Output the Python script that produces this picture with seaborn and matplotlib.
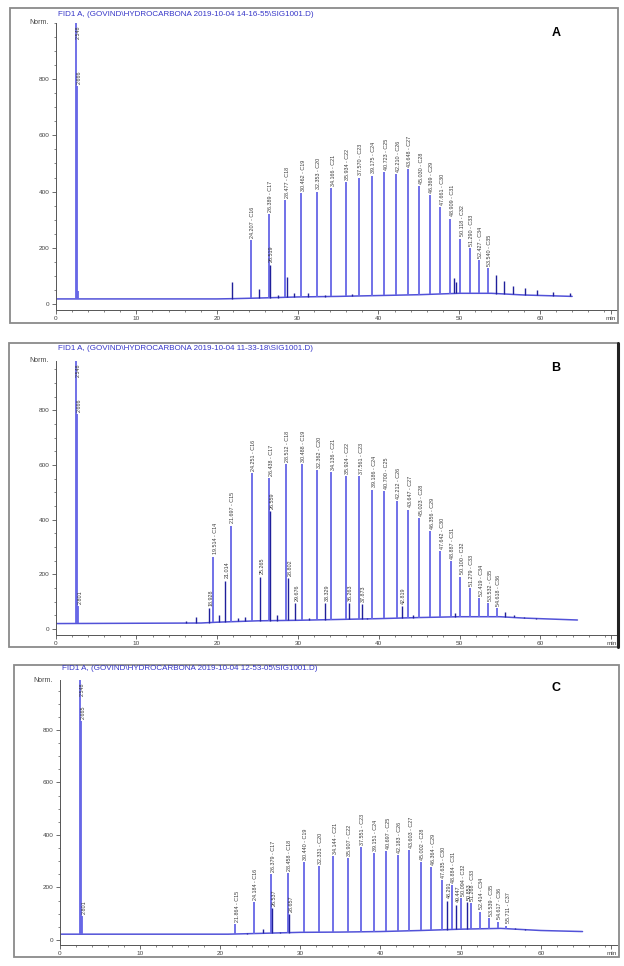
import numpy as np
import pandas as pd
import matplotlib
matplotlib.use("Agg")
import matplotlib.pyplot as plt
import seaborn as sns
from matplotlib.patches import Rectangle
from matplotlib.ticker import MultipleLocator

# ---- panel A : retention time (min), height (Norm.), peak label
a_rt = [2.548, 2.666, 2.75, 21.90, 23.40, 24.207, 25.20, 26.389, 26.519, 27.50,
        28.477, 28.62, 29.50, 30.462, 31.30, 32.353, 33.40, 34.166, 35.934, 36.70,
        37.570, 39.175, 40.723, 42.210, 43.648, 45.030, 46.369, 47.661, 48.909, 49.35,
        49.60, 50.118, 51.290, 52.427, 53.540, 54.55, 55.55, 56.70, 58.15, 59.70,
        61.60, 63.80]
a_height = [1100, 775, 45, 80, 22, 228, 55, 320, 140, 32,
            369, 95, 40, 395, 38, 400, 33, 412, 434, 35,
            450, 457, 468, 462, 480, 420, 388, 345, 304, 92,
            80, 233, 198, 156, 127, 103, 83, 65, 57, 50,
            42, 38]
a_label = ["2.548", "2.666", "", "", "", "24.207 - C16", "", "26.389 - C17", "26.519", "",
           "28.477 - C18", "", "", "30.462 - C19", "", "32.353 - C20", "", "34.166 - C21",
           "35.934 - C22", "", "37.570 - C23", "39.175 - C24", "40.723 - C25", "42.210 - C26",
           "43.648 - C27", "45.030 - C28", "46.369 - C29", "47.661 - C30", "48.909 - C31", "",
           "", "50.118 - C32", "51.290 - C33", "52.427 - C34", "53.540 - C35", "", "", "", "", "",
           "", ""]
a_base_t = [0, 20, 22, 25, 30, 35, 40, 45, 50, 54, 58, 64]
a_base_y = [18, 18, 19, 21, 25, 27, 30, 33, 38, 38, 32, 27]

# ---- panel B
b_rt = [2.548, 2.666, 2.80, 16.10, 17.40, 18.928, 19.514, 20.20, 21.014, 21.697,
        22.60, 23.40, 24.251, 25.265, 26.438, 26.559, 27.40, 28.512, 28.802, 29.676,
        30.488, 31.40, 32.362, 33.329, 34.136, 35.924, 36.263, 37.561, 37.873, 38.60,
        39.186, 40.700, 42.212, 42.819, 43.647, 44.30, 45.023, 46.356, 47.642, 48.887,
        49.40, 50.100, 51.279, 52.419, 53.532, 54.618, 55.60, 56.70, 58.00, 59.50,
        61.20]
b_height = [1100, 785, 85, 30, 45, 76, 265, 50, 177, 378,
            40, 45, 571, 192, 553, 430, 50, 602, 185, 95,
            602, 40, 580, 95, 575, 559, 95, 559, 90, 40,
            510, 504, 467, 85, 437, 50, 406, 357, 284, 247,
            60, 192, 149, 113, 94, 76, 62, 50, 45, 40,
            36]
b_label = ["2.548", "2.666", "2.801", "", "", "18.928", "19.514 - C14", "", "21.014", "21.697 - C15",
           "", "", "24.251 - C16", "25.265", "26.438 - C17", "26.559", "", "28.512 - C18", "28.802", "29.676",
           "30.488 - C19", "", "32.362 - C20", "33.329", "34.136 - C21", "35.924 - C22", "36.263",
           "37.561 - C23", "37.873", "",
           "39.186 - C24", "40.700 - C25", "42.212 - C26", "42.819", "43.647 - C27", "", "45.023 - C28",
           "46.356 - C29", "47.642 - C30", "48.887 - C31",
           "", "50.100 - C32", "51.279 - C33", "52.419 - C34", "53.532 - C35", "54.618 - C36", "", "", "", "",
           ""]
b_base_t = [0, 18, 20, 25, 30, 35, 40, 45, 50, 55, 58, 64.6]
b_base_y = [20, 22, 25, 30, 32, 35, 38, 42, 45, 45, 40, 33]

# ---- panel C
c_rt = [2.548, 2.665, 2.80, 21.864, 23.40, 24.184, 25.30, 26.379, 26.537, 27.50,
        28.458, 28.657, 30.440, 31.30, 32.331, 34.144, 35.907, 37.551, 39.151, 40.697,
        42.183, 43.603, 45.002, 46.364, 47.635, 48.291, 48.884, 49.447, 50.094, 50.853,
        51.268, 52.414, 53.539, 54.617, 55.711, 56.80, 58.00, 59.50, 61.00]
c_height = [1100, 832, 90, 62, 28, 146, 42, 250, 120, 30,
            254, 100, 295, 32, 282, 320, 311, 353, 330, 337,
            324, 343, 298, 279, 229, 150, 210, 135, 159, 145,
            140, 108, 83, 70, 55, 45, 40, 36, 34]
c_label = ["2.548", "2.665", "2.801", "21.864 - C15", "", "24.184 - C16", "", "26.379 - C17", "26.537", "",
           "28.458 - C18", "28.657", "30.440 - C19", "", "32.331 - C20", "34.144 - C21", "35.907 - C22",
           "37.551 - C23", "39.151 - C24", "40.697 - C25",
           "42.183 - C26", "43.603 - C27", "45.002 - C28", "46.364 - C29", "47.635 - C30", "48.291",
           "48.884 - C31", "49.447", "50.094 - C32", "50.853",
           "51.268 - C33", "52.414 - C34", "53.539 - C35", "54.617 - C36", "55.711 - C37", "", "", "", ""]
c_base_t = [0, 21, 25, 30, 35, 40, 45, 50, 55, 60, 65.2]
c_base_y = [22, 22, 25, 29, 30, 32, 36, 41, 44, 36, 32]

titles = [
    "FID1 A, (GOVIND\\HYDROCARBONA 2019-10-04 14-16-55\\SIG1001.D)",
    "FID1 A, (GOVIND\\HYDROCARBONA 2019-10-04 11-33-18\\SIG1001.D)",
    "FID1 A, (GOVIND\\HYDROCARBONA 2019-10-04 12-53-05\\SIG1001.D)",
]
letters = ["A", "B", "C"]

sns.set_style("white")
plt.rcParams["font.family"] = ["Liberation Sans", "DejaVu Sans"]

W, H = 624, 966
fig = plt.figure(figsize=(W / 100, H / 100), dpi=100)


def px(x0, y0, x1, y1):
    # pixel box (top-left origin) -> figure fraction rect
    return [x0 / W, 1 - y1 / H, (x1 - x0) / W, (y1 - y0) / H]


panels = [
    dict(rt=a_rt, h=a_height, lab=a_label, bt=a_base_t, by=a_base_y,
         box=px(55.6, 23, 616.5, 309.6), ytop=1000, frame=(10, 8, 618, 323),
         title_y=14, letter_y=33),
    dict(rt=b_rt, h=b_height, lab=b_label, bt=b_base_t, by=b_base_y,
         box=px(55.7, 361, 617, 634.5), ytop=980, frame=(9, 343, 618, 647),
         title_y=349, letter_y=368),
    dict(rt=c_rt, h=c_height, lab=c_label, bt=c_base_t, by=c_base_y,
         box=px(59.7, 680, 617, 945.2), ytop=990, frame=(14, 665, 619, 957),
         title_y=669, letter_y=688),
]

light = "#6666e6"
dark = "#20209a"

for i, p in enumerate(panels):
    ax = fig.add_axes(p["box"])
    df = pd.DataFrame({"rt": p["rt"], "h": p["h"], "label": p["lab"]})
    df["base"] = np.interp(df["rt"], p["bt"], p["by"])
    is_c = df["label"].str.contains(" - C") | (df["rt"] < 3)

    base = pd.DataFrame({"t": p["bt"], "y": p["by"]})
    sns.lineplot(data=base, x="t", y="y", ax=ax, color="#3f3fd4", lw=1.1, alpha=0.9)

    ax.vlines(df.loc[is_c, "rt"], df.loc[is_c, "base"], df.loc[is_c, "h"],
              color=light, lw=1.3)
    ax.vlines(df.loc[~is_c, "rt"], df.loc[~is_c, "base"], df.loc[~is_c, "h"],
              color=dark, lw=1.0)

    ytop = p["ytop"]
    for _, r in df.iterrows():
        if not r["label"]:
            continue
        if r["h"] > ytop:
            ax.text(r["rt"] + 0.25, ytop - 10, r["label"], rotation=90, ha="center",
                    va="top", fontsize=3.9, color="#3a3a3a")
        else:
            ax.text(r["rt"] + 0.25, r["h"] + 8, r["label"], rotation=90, ha="center",
                    va="bottom", fontsize=3.9, color="#3a3a3a")

    ax.set_xlim(0, 69.5)
    ax.set_ylim(-20, ytop)
    ax.set_xticks([0, 10, 20, 30, 40, 50, 60, 68.8])
    ax.set_xticklabels(["0", "10", "20", "30", "40", "50", "60", "min"])
    ax.set_yticks([0, 200, 400, 600, 800])
    ax.xaxis.set_minor_locator(MultipleLocator(2))
    ax.yaxis.set_minor_locator(MultipleLocator(50))
    ax.tick_params(axis="both", which="major", length=3, width=0.6, color="#555555",
                   labelsize=4.6, labelcolor="#444444", pad=1.5, direction="out")
    ax.tick_params(axis="both", which="minor", length=1.6, width=0.5, color="#555555",
                   direction="out")
    ax.tick_params(bottom=True, left=True, which="both")
    sns.despine(ax=ax)
    for s in ["left", "bottom"]:
        ax.spines[s].set_color("#555555")
        ax.spines[s].set_linewidth(0.7)
    ax.set_xlabel("")
    ax.set_ylabel("")
    ax.patch.set_alpha(0)
    ax.text(-0.012, 1.0, "Norm.", transform=ax.transAxes, ha="right", va="center",
            fontsize=5, color="#444444")

    x0, y0, x1, y1 = p["frame"]
    fig.patches.append(Rectangle((x0 / W, 1 - y1 / H), (x1 - x0) / W, (y1 - y0) / H,
                                 transform=fig.transFigure, fill=False,
                                 edgecolor="#8a8a8a", lw=1.3))
    fig.text(p["box"][0] + 2 / W, 1 - p["title_y"] / H, titles[i], ha="left",
             va="center", fontsize=5.8, color="#3636c8")
    fig.text(556 / W, 1 - p["letter_y"] / H, letters[i], ha="center", va="center",
             fontsize=9, fontweight="bold", color="black")

# dark right edge on the middle panel
fig.add_artist(plt.Line2D([618 / W, 618 / W], [1 - 647 / H, 1 - 343 / H],
                          transform=fig.transFigure, color="#222222", lw=2.2))

fig.savefig("out.png", dpi=100)
